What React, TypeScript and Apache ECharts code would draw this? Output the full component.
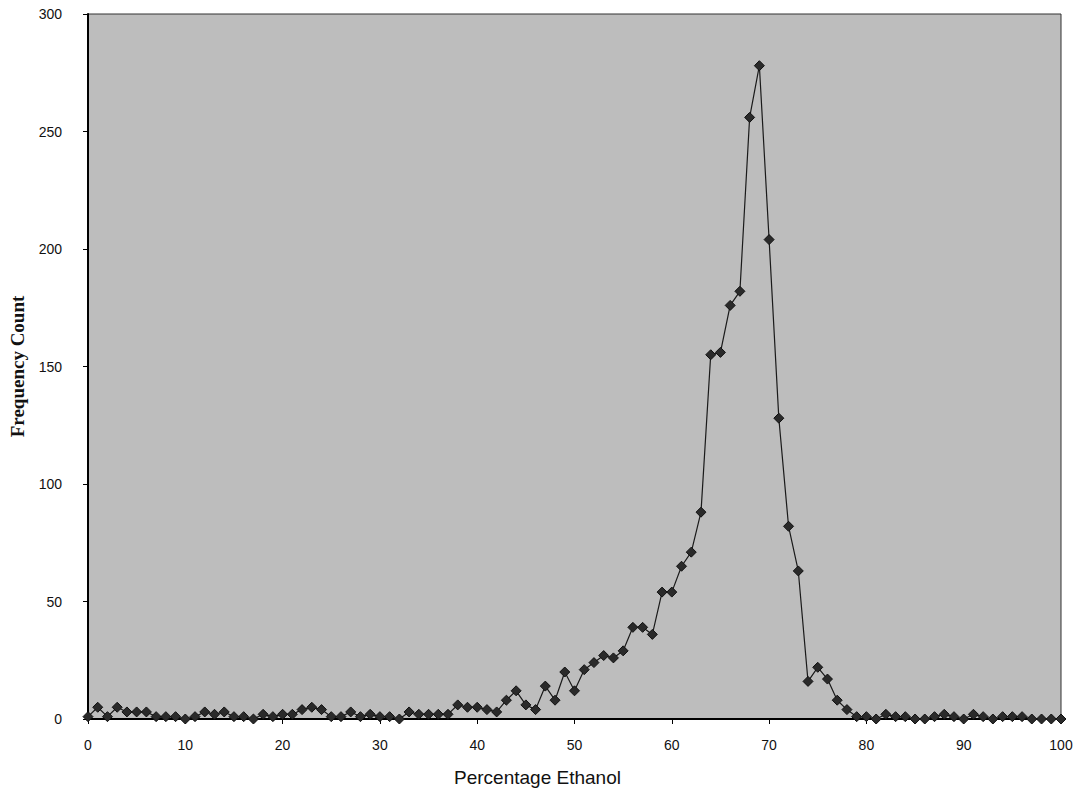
import React, { useEffect, useRef } from "react";
import * as echarts from "echarts";

const percentages: number[] = Array.from({ length: 101 }, (_, i) => i);
const frequency: number[] = [
  1, 5, 1, 5, 3, 3, 3, 1, 1, 1,
  0, 1, 3, 2, 3, 1, 1, 0, 2, 1,
  2, 2, 4, 5, 4, 1, 1, 3, 1, 2,
  1, 1, 0, 3, 2, 2, 2, 2, 6, 5,
  5, 4, 3, 8, 12, 6, 4, 14, 8, 20,
  12, 21, 24, 27, 26, 29, 39, 39, 36, 54,
  54, 65, 71, 88, 155, 156, 176, 182, 256, 278,
  204, 128, 82, 63, 16, 22, 17, 8, 4, 1,
  1, 0, 2, 1, 1, 0, 0, 1, 2, 1,
  0, 2, 1, 0, 1, 1, 1, 0, 0, 0,
  0,
];
const xTicks: number[] = [0, 10, 20, 30, 40, 50, 60, 70, 80, 90, 100];
const yTicks: number[] = [0, 50, 100, 150, 200, 250, 300];

export default function App() {
  const ref = useRef<HTMLDivElement>(null);
  useEffect(() => {
    if (!ref.current) return;
    const chart = echarts.init(ref.current, undefined, { renderer: "svg" });
    chart.setOption({
      animation: false,
      backgroundColor: "#ffffff",
      grid: {
        left: 88,
        right: 12,
        top: 14,
        bottom: 75,
        show: true,
        backgroundColor: "#bdbdbd",
        borderColor: "#333333",
        borderWidth: 1,
        containLabel: false,
        outerBoundsMode: "none",
      },
      xAxis: {
        type: "value",
        min: xTicks[0],
        max: xTicks[xTicks.length - 1],
        interval: 10,
        name: "Percentage Ethanol",
        nameLocation: "middle",
        nameGap: 49,
        nameTextStyle: {
          fontFamily: "Liberation Sans",
          fontSize: 19,
          color: "#111",
          padding: [0, 74, 0, 0],
        },
        axisLine: { show: true, onZero: false, lineStyle: { color: "#000", width: 2 } },
        axisTick: { show: true, inside: false, length: 5, lineStyle: { color: "#000" } },
        axisLabel: { fontFamily: "Liberation Sans", fontSize: 14, color: "#111", margin: 19 },
        splitLine: { show: false },
      },
      yAxis: {
        type: "value",
        min: yTicks[0],
        max: yTicks[yTicks.length - 1],
        interval: 50,
        name: "Frequency Count",
        nameLocation: "middle",
        nameGap: 61,
        nameTextStyle: {
          fontFamily: "Liberation Serif",
          fontWeight: "bold",
          fontSize: 19,
          color: "#111",
        },
        axisLine: { show: true, lineStyle: { color: "#000", width: 2 } },
        axisTick: { show: true, inside: false, length: 5, lineStyle: { color: "#000" } },
        axisLabel: { fontFamily: "Liberation Sans", fontSize: 14, color: "#111", margin: 26 },
        splitLine: { show: false },
      },
      series: [
        {
          type: "line",
          data: percentages.map((p, i) => [p, frequency[i]]),
          symbol: "diamond",
          symbolSize: 10,
          lineStyle: { color: "#1a1a1a", width: 1.2 },
          itemStyle: { color: "#2a2a2a", borderColor: "#111", borderWidth: 1 },
        },
      ],
    });
    return () => chart.dispose();
  }, []);
  return (
    <div
      ref={ref}
      style={{ position: "fixed", left: 0, top: 0, width: 1073, height: 794 }}
    />
  );
}
